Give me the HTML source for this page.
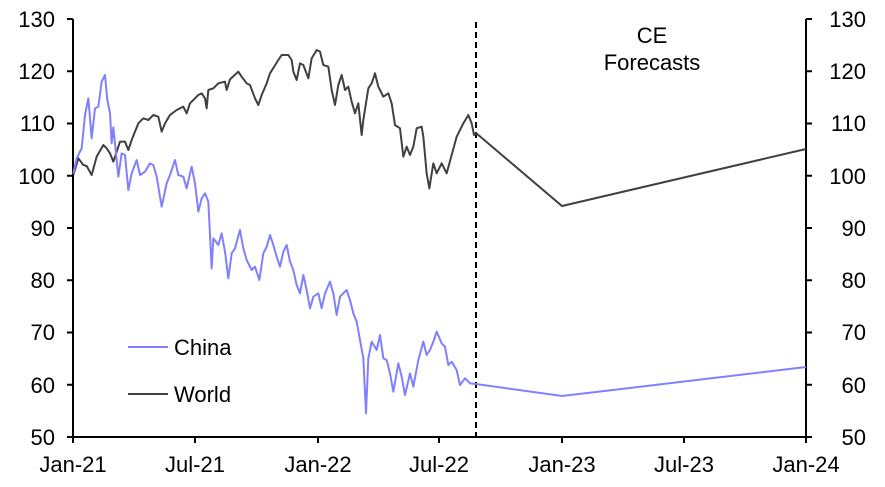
<!DOCTYPE html>
<html><head><meta charset="utf-8"><style>
html,body{margin:0;padding:0;background:#fff;}
svg{display:block;font-family:"Liberation Sans",Arial,sans-serif;}
text{font-size:22px;fill:#000;}
</style></head><body>
<svg width="885" height="487" viewBox="0 0 885 487">
<g stroke="#000" stroke-width="2" fill="none">
<line x1="73" y1="19" x2="73" y2="437"/>
<line x1="806" y1="19" x2="806" y2="437"/>
<line x1="67" y1="437" x2="812" y2="437"/>
<path d="M67 19H73M67 71.25H73M67 123.5H73M67 175.75H73M67 228H73M67 280.25H73M67 332.5H73M67 384.75H73M67 437H73"/>
<path d="M806 19H812M806 71.25H812M806 123.5H812M806 175.75H812M806 228H812M806 280.25H812M806 332.5H812M806 384.75H812M806 437H812"/>
<path d="M73 437V443M195 437V443M318 437V443M439 437V443M562 437V443M684 437V443M806 437V443"/>
</g>
<line x1="476" y1="22" x2="476" y2="437" stroke="#000" stroke-width="2" stroke-dasharray="6,4"/>
<g text-anchor="end">
<text x="55" y="27">130</text><text x="55" y="79">120</text><text x="55" y="131">110</text><text x="55" y="184">100</text><text x="55" y="236">90</text><text x="55" y="288">80</text><text x="55" y="340">70</text><text x="55" y="393">60</text><text x="55" y="445">50</text>
<text x="866" y="27">130</text><text x="866" y="79">120</text><text x="866" y="131">110</text><text x="866" y="184">100</text><text x="866" y="236">90</text><text x="866" y="288">80</text><text x="866" y="340">70</text><text x="866" y="393">60</text><text x="866" y="445">50</text>
</g>
<g text-anchor="middle">
<text x="73" y="472">Jan-21</text><text x="195" y="472">Jul-21</text><text x="318" y="472">Jan-22</text><text x="439" y="472">Jul-22</text><text x="562" y="472">Jan-23</text><text x="684" y="472">Jul-23</text><text x="806" y="472">Jan-24</text>
<text x="652" y="43">CE</text><text x="652" y="70">Forecasts</text>
</g>
<g transform="translate(70,40) scale(0.3333333)" fill="none" stroke-width="2" stroke-linejoin="round">
<polyline vector-effect="non-scaling-stroke" stroke="#404040" points="10,405 25,355 40,375 50,378 65,405 80,350 100,315 110,325 120,340 130,365 140,335 150,305 165,305 175,330 185,300 205,250 220,235 235,240 250,225 265,230 275,275 285,250 300,225 320,210 340,200 350,220 360,190 385,165 395,160 405,175 410,205 415,150 430,145 445,130 465,125 470,150 480,118 505,95 515,110 530,130 540,135 555,175 565,195 575,165 590,130 600,100 625,60 635,45 655,45 665,60 670,95 680,120 690,70 700,75 715,115 725,55 740,30 750,35 760,75 775,80 785,150 795,195 805,135 815,105 825,150 835,140 845,185 855,220 865,190 875,285 880,240 895,145 905,130 915,100 925,140 940,170 955,160 965,190 975,255 990,265 1000,350 1010,320 1020,345 1030,320 1040,265 1055,260 1060,290 1070,400 1078,445 1090,370 1100,400 1115,370 1130,400 1145,345 1160,290 1180,250 1195,225 1205,250 1212,285 1218,279"/>
<polyline vector-effect="non-scaling-stroke" stroke="#8080ff" points="10,400 20,355 35,325 45,225 55,175 65,295 75,205 85,200 95,125 105,105 112,180 120,220 125,310 130,262 140,360 145,410 155,340 165,345 175,450 185,400 200,360 210,405 225,395 240,370 250,375 260,410 275,500 290,430 300,405 315,360 325,405 340,410 350,445 365,380 375,430 385,515 395,475 405,460 415,485 425,685 430,595 445,615 455,580 465,635 475,715 485,640 495,625 510,570 520,625 530,660 545,690 555,680 568,720 580,640 590,620 600,585 610,615 620,650 630,680 640,635 650,615 660,665 670,690 680,735 690,760 700,705 710,750 720,805 730,770 745,760 755,805 765,760 780,725 790,760 800,825 810,770 820,760 830,750 840,780 850,820 860,845 870,900 880,955 888,1120 895,955 905,905 920,930 930,885 940,955 950,960 960,1000 970,1055 985,970 995,1010 1005,1065 1020,1000 1030,1040 1045,960 1060,905 1070,945 1080,930 1090,905 1100,875 1115,910 1125,920 1135,975 1145,965 1160,990 1170,1035 1185,1015 1200,1030 1218,1032"/>
</g>
<polyline points="476,133 562,206 806,149" fill="none" stroke="#404040" stroke-width="2"/>
<polyline points="476,384 562,396 806,367" fill="none" stroke="#8080ff" stroke-width="2"/>
<line x1="128" y1="347" x2="168" y2="347" stroke="#8080ff" stroke-width="2"/>
<line x1="128" y1="394" x2="168" y2="394" stroke="#404040" stroke-width="2"/>
<text x="174" y="355">China</text>
<text x="174" y="402">World</text>
</svg>
</body></html>
